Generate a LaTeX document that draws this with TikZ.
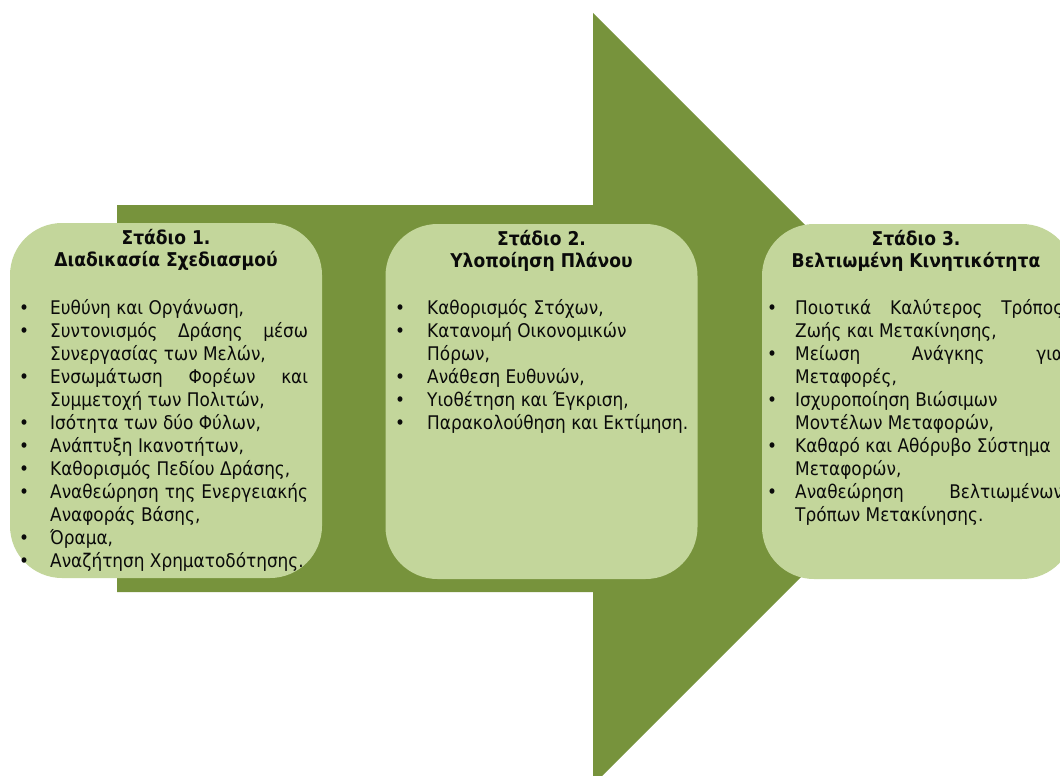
\documentclass[tikz,border=0pt]{standalone}
\usepackage{fontspec}
\setmainfont{DejaVu Sans Condensed}
\usepackage{array}
\definecolor{arrowgreen}{HTML}{77933C}
\definecolor{boxgreen}{HTML}{C3D69B}
\definecolor{ink}{HTML}{0A0A0A}
% a justified line: spaces stretched to the full column width
\newcommand\justline[1]{\makebox[\linewidth][s]{#1}}
\begin{document}
\begin{tikzpicture}[x=1pt,y=-1pt,
  stage/.style={fill=boxgreen, draw=none, rounded corners=52pt,
    minimum width=312pt, minimum height=355pt, inner sep=0pt},
  stagetitle/.style={font=\fontsize{19}{22}\selectfont\bfseries, text=ink,
    align=center, inner sep=0pt},
  stagebody/.style={font=\fontsize{18.8}{23}\selectfont, text=ink,
    anchor=base west, inner sep=0pt}]
\useasboundingbox (0,0) rectangle (1060,776);
\clip (0,0) rectangle (1060,776);

% the big arrow behind the three stages
\fill[arrowgreen] (117,205) -- (593,205) -- (593,13) -- (979,399)
  -- (593,785) -- (593,592) -- (117,592) -- cycle;

% stage boxes
\node[stage] (s1) at (166,400.5) {};
\node[stage] (s2) at (541.5,401.5) {};
\node[stage] (s3) at (918,401.5) {};

% titles
\node[stagetitle] (t1) at (166,250) {Στάδιο 1.\\Διαδικασία Σχεδιασμού};
\node[stagetitle] (t2) at (541.5,251) {Στάδιο 2.\\Υλοποίηση Πλάνου};
\node[stagetitle] (t3) at (916,251) {Στάδιο 3.\\Βελτιωμένη Κινητικότητα};

% stage 1 items
\node[stagebody] (b1) at (19,314) {%
\begin{tabular}[t]{@{}p{31pt}@{}p{258pt}@{}}
• & Ευθύνη και Οργάνωση,\\
• & \justline{Συντονισμός Δράσης μέσω}\\
  & Συνεργασίας των Μελών,\\
• & \justline{Ενσωμάτωση Φορέων και}\\
  & Συμμετοχή των Πολιτών,\\
• & Ισότητα των δύο Φύλων,\\
• & Ανάπτυξη Ικανοτήτων,\\
• & Καθορισμός Πεδίου Δράσης,\\
• & \justline{Αναθεώρηση της Ενεργειακής}\\
  & Αναφοράς Βάσης,\\
• & Όραμα,\\
• & Αναζήτηση Χρηματοδότησης.
\end{tabular}};

% stage 2 items
\node[stagebody] (b2) at (395,314) {%
\begin{tabular}[t]{@{}p{32pt}@{}p{266pt}@{}}
• & Καθορισμός Στόχων,\\
• & Κατανομή Οικονομικών\\
  & Πόρων,\\
• & Ανάθεση Ευθυνών,\\
• & Υιοθέτηση και Έγκριση,\\
• & Παρακολούθηση και Εκτίμηση.
\end{tabular}};

% stage 3 items
\node[stagebody] (b3) at (767,314) {%
\begin{tabular}[t]{@{}p{28pt}@{}p{268pt}@{}}
• & \justline{Ποιοτικά Καλύτερος Τρόπος}\\
  & Ζωής και Μετακίνησης,\\
• & \justline{Μείωση Ανάγκης για}\\
  & Μεταφορές,\\
• & Ισχυροποίηση Βιώσιμων\\
  & Μοντέλων Μεταφορών,\\
• & Καθαρό και Αθόρυβο Σύστημα\\
  & Μεταφορών,\\
• & \justline{Αναθεώρηση Βελτιωμένων}\\
  & Τρόπων Μετακίνησης.
\end{tabular}};
\end{tikzpicture}
\end{document}
